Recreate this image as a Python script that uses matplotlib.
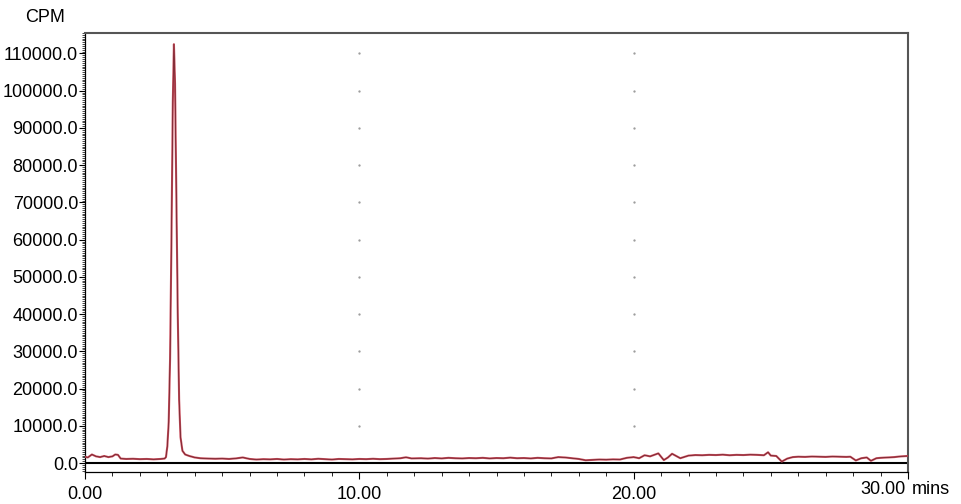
import matplotlib

matplotlib.use("Agg")

import matplotlib.pyplot as plt
from matplotlib.ticker import MultipleLocator

# retention time (mins) and counts per minute
TIME = [
    0.00, 0.10, 0.25, 0.40, 0.55, 0.70, 0.85, 1.00, 1.10, 1.20, 1.30, 1.50,
    1.75, 2.00, 2.25, 2.50, 2.75, 2.90, 2.95, 3.00, 3.05, 3.10, 3.15, 3.20,
    3.24, 3.28, 3.33, 3.38, 3.43, 3.48, 3.55, 3.65, 3.80, 4.00, 4.20, 4.50,
    4.75, 5.00, 5.25, 5.50, 5.75, 6.00, 6.25, 6.50, 6.75, 7.00, 7.25, 7.50,
    7.75, 8.00, 8.25, 8.50, 8.75, 9.00, 9.25, 9.50, 9.75, 10.00, 10.25, 10.50,
    10.75, 11.00, 11.25, 11.50, 11.70, 11.90, 12.25, 12.50, 12.75, 13.00,
    13.25, 13.50, 13.75, 14.00, 14.25, 14.50, 14.75, 15.00, 15.25, 15.50,
    15.75, 16.00, 16.25, 16.50, 16.75, 17.00, 17.25, 17.50, 17.75, 18.00,
    18.25, 18.50, 18.75, 19.00, 19.25, 19.50, 19.75, 20.00, 20.20, 20.40,
    20.60, 20.90, 21.10, 21.25, 21.40, 21.70, 22.00, 22.25, 22.50, 22.75,
    23.00, 23.25, 23.50, 23.75, 24.00, 24.25, 24.50, 24.75, 24.90, 25.00,
    25.20, 25.40, 25.60, 25.80, 26.00, 26.25, 26.50, 26.75, 27.00, 27.25,
    27.50, 27.75, 27.90, 28.10, 28.30, 28.50, 28.65, 28.85, 29.00, 29.25,
    29.50, 29.75, 30.00,
]
CPM = [
    1700, 1500, 2300, 1800, 1600, 1900, 1600, 1800, 2300, 2200, 1200, 1100,
    1150, 1050, 1100, 1000, 1100, 1200, 1600, 4500, 11000, 28000, 60000, 97000,
    112500, 102000, 72000, 40000, 17000, 7000, 3300, 2300, 1900, 1500, 1300, 1200,
    1150, 1200, 1100, 1250, 1500, 1100, 950, 1050, 1000, 1100, 950, 1050,
    1000, 1100, 1000, 1150, 1050, 950, 1100, 1050, 1000, 1100, 1050, 1150,
    1050, 1100, 1200, 1300, 1550, 1250, 1300, 1200, 1350, 1250,
    1400, 1300, 1250, 1350, 1300, 1400, 1250, 1350, 1300, 1450,
    1300, 1350, 1250, 1400, 1300, 1250, 1600, 1500, 1300, 1100,
    750, 850, 950, 900, 1000, 950, 1400, 1600, 1300, 2100,
    1800, 2600, 800, 1500, 2500, 1300, 2000, 2150, 2100, 2200,
    2150, 2250, 2100, 2200, 2150, 2250, 2200, 2100, 2900, 2000,
    1900, 400, 1200, 1600, 1700, 1650, 1750, 1700, 1650, 1750,
    1700, 1650, 1700, 700, 1300, 1500, 600, 1300, 1400, 1500,
    1600, 1800, 1900,
]

X_TICKS = [0, 10, 20, 30]
X_LABELS = ["0.00", "10.00", "20.00", ""]
Y_TICKS = [0, 10000, 20000, 30000, 40000, 50000, 60000, 70000, 80000,
           90000, 100000, 110000]
GRID_X = [10, 20]

plt.rcParams["font.family"] = ["Liberation Sans", "DejaVu Sans"]
plt.rcParams["font.size"] = 13

fig = plt.figure(figsize=(9.61, 5.04), dpi=100)
ax = fig.add_axes([0.0885, 0.0635, 0.8563, 0.871])

ax.plot(TIME, CPM, color="#c9505e", lw=1.5, zorder=3)
ax.plot(TIME, CPM, color="#6a2029", lw=0.5, zorder=4)
ax.axhline(0, color="black", lw=1.5, zorder=2)

# faint dotted grid marks at the major positions
for gx in GRID_X:
    ax.plot([gx] * (len(Y_TICKS) - 1), Y_TICKS[1:], ls="none", marker=".",
            ms=1.3, color="#999999", zorder=1)

ax.set_xlim(0, 30)
ax.set_ylim(-2400, 115500)

ax.set_xticks(X_TICKS)
ax.set_xticklabels(X_LABELS)
ax.xaxis.set_minor_locator(MultipleLocator(1))
ax.set_yticks(Y_TICKS)
ax.set_yticklabels([f"{v:.1f}" for v in Y_TICKS])
ax.yaxis.set_minor_locator(MultipleLocator(500))

ax.tick_params(axis="x", which="major", length=5, width=0.8, pad=5)
ax.tick_params(axis="x", which="minor", length=3, width=0.6)
ax.tick_params(axis="y", which="major", length=4, width=0.8, pad=1)
ax.tick_params(axis="y", which="minor", length=2, width=0.5)

for side in ("top", "right"):
    ax.spines[side].set_color("#555555")
    ax.spines[side].set_linewidth(1.5)
ax.spines["left"].set_linewidth(0.9)
ax.spines["bottom"].set_linewidth(0.9)

ax.annotate("30.00", xy=(1, 0), xycoords="axes fraction", xytext=(-2, -9),
            textcoords="offset pixels", ha="right", va="top")
ax.annotate("mins", xy=(1, 0), xycoords="axes fraction", xytext=(4, -9),
            textcoords="offset pixels", ha="left", va="top")
fig.text(45 / 961, 1 - 17 / 504, "CPM", ha="center", va="center")

fig.savefig("out.png", dpi=100)
